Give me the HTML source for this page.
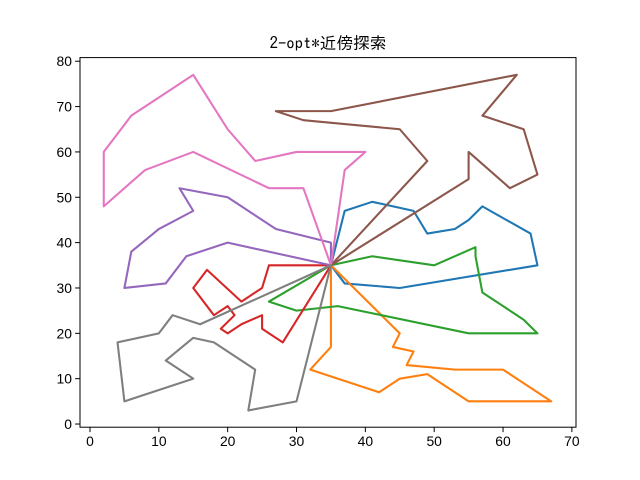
<!DOCTYPE html>
<html><head><meta charset="utf-8"><style>
body{margin:0;background:#fff}
svg{display:block}
text{font-family:"Liberation Sans","DejaVu Sans",sans-serif;font-size:13.9px;fill:#000}
</style></head><body>
<svg id="chart" width="640" height="480" viewBox="0 0 640 480" xmlns="http://www.w3.org/2000/svg">
<rect width="640" height="480" fill="#fff"/>
<text x="328" y="49" text-anchor="middle" style="font-family:'IPAGothic','Noto Sans CJK JP',monospace;font-size:16.7px">2-opt*近傍探索</text>
<g id="plot"></g>
</svg>
<script>
const xTicks=[0,10,20,30,40,50,60,70];
const yTicks=[0,10,20,30,40,50,60,70,80];
const routeColors=["#1f77b4","#ff7f0e","#2ca02c","#d62728","#9467bd","#8c564b","#e377c2","#7f7f7f"];
const route1=[[35,35],[37,47],[41,49],[47,47],[49,42],[53,43],[55,45],[57,48],[64,42],[65,35],[45,30],[37,31],[35,35]];
const route2=[[35,35],[45,20],[44,17],[47,16],[46,13],[53,12],[60,12],[67,5],[55,5],[49,11],[45,10],[42,7],[32,12],[35,17],[35,35]];
const route3=[[35,35],[41,37],[50,35],[56,39],[56,37],[57,29],[63,23],[65,20],[55,20],[36,26],[30,25],[26,27],[35,35]];
const route4=[[35,35],[26,35],[25,30],[22,27],[17,34],[15,30],[18,24],[20,26],[21,24],[19,21],[20,20],[22,22],[25,24],[25,21],[28,18],[35,35]];
const route5=[[35,35],[35,40],[27,43],[20,50],[13,52],[15,47],[10,43],[6,38],[5,30],[11,31],[14,37],[20,40],[35,35]];
const route6=[[35,35],[49,58],[45,65],[31,67],[27,69],[35,69],[62,77],[57,68],[63,65],[65,55],[61,52],[55,60],[55,54],[35,35]];
const route7=[[35,35],[37,56],[40,60],[30,60],[24,58],[20,65],[15,77],[6,68],[2,60],[2,48],[8,56],[15,60],[26,52],[31,52],[35,35]];
const route8=[[35,35],[30,5],[23,3],[24,12],[18,18],[15,19],[11,14],[15,10],[5,5],[4,18],[10,20],[12,24],[16,22],[35,35]];
const routes=[route1,route2,route3,route4,route5,route6,route7,route8];

const L=80,R=576,T=57.6,B=427.2;
const xMin=-1.45,xMax=70.6,yMin=-0.7,yMax=80.8;
const sx=v=>L+(v-xMin)/(xMax-xMin)*(R-L);
const sy=v=>B-(v-yMin)/(yMax-yMin)*(B-T);
const NS="http://www.w3.org/2000/svg";
const g=document.getElementById('plot');
function mk(t,a){const e=document.createElementNS(NS,t);for(const k in a)e.setAttribute(k,a[k]);return e;}

routes.forEach((r,i)=>{
  const p=mk('polyline',{points:r.map(q=>sx(q[0]).toFixed(2)+','+sy(q[1]).toFixed(2)).join(' '),fill:'none',stroke:routeColors[i],'stroke-width':2.08,'stroke-linejoin':'round','stroke-linecap':'square'});
  
  
  g.appendChild(p);
});
const frame=mk('rect',{x:L,y:T,width:R-L,height:B-T,fill:'none',stroke:'#000','stroke-width':1});


g.appendChild(frame);
xTicks.forEach(v=>{
  const x=sx(v);
  const l=mk('line',{x1:x,x2:x,y1:B,y2:B+4.9,stroke:'#000','stroke-width':1});
  
  
  g.appendChild(l);
  const t=mk('text',{x:x,y:B+19,'text-anchor':'middle'});t.textContent=v;
  
  
  g.appendChild(t);
});
yTicks.forEach(v=>{
  const y=sy(v);
  const l=mk('line',{x1:L-4.9,x2:L,y1:y,y2:y,stroke:'#000','stroke-width':1});
  
  
  g.appendChild(l);
  const t=mk('text',{x:L-8,y:y+5,'text-anchor':'end'});t.textContent=v;
  
  
  g.appendChild(t);
});
</script>
</body></html>
